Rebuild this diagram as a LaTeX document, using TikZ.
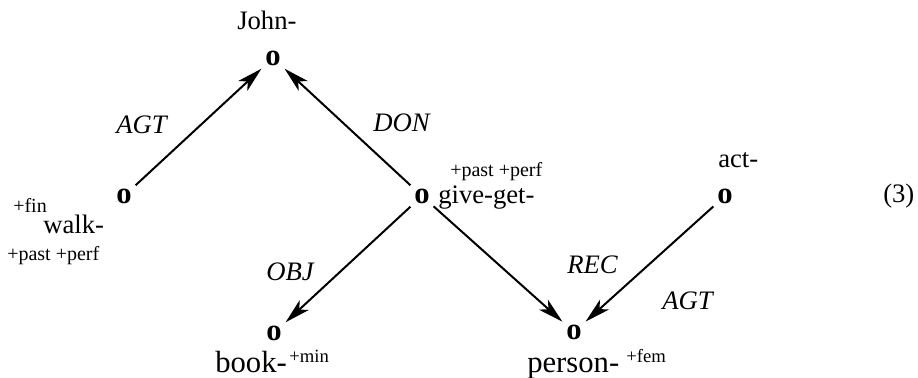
\documentclass[tikz,border=0pt]{standalone}
\usepackage{fontspec}
\setmainfont{Liberation Serif}
\usetikzlibrary{arrows.meta}
\begin{document}
\begin{tikzpicture}[x=0.75pt,y=-0.75pt,
  vtx/.style={font=\fontsize{23}{23}\selectfont\bfseries, inner sep=2pt},
  word/.style={font=\fontsize{20}{24}\selectfont, inner sep=0pt},
  bword/.style={font=\fontsize{23}{26}\selectfont, inner sep=0pt},
  feat/.style={font=\fontsize{15}{18}\selectfont, inner sep=0pt},
  sfeat/.style={font=\fontsize{14}{16}\selectfont, inner sep=0pt},
  rel/.style={font=\fontsize{20}{24}\selectfont\itshape, inner sep=0pt},
  arr/.style={-{Stealth[length=19pt,width=10pt,inset=5pt]}, line width=1.5pt, shorten >=1pt, shorten <=1pt}]
\useasboundingbox (0,0) rectangle (918,378);
% vertices
\node[vtx] (john) at (273,58) {o};
\node[vtx] (walk) at (124,196) {o};
\node[vtx] (give) at (422,196) {o};
\node[vtx] (act) at (725,196) {o};
\node[vtx] (book) at (274,333) {o};
\node[vtx] (person) at (574,332) {o};
% words
\node[word, anchor=base west] (johnw) at (237,30) {John-};
\node[feat, anchor=base west] (walkfin) at (13,212) {+fin};
\node[word, anchor=base west] (walkw) at (43,233) {walk-};
\node[feat, anchor=base west] (walkpp) at (7,260) {+past +perf};
\node[feat, anchor=base west] (givepp) at (450,176) {+past +perf};
\node[word, anchor=base west] (givew) at (438,203) {give-get-};
\node[word, anchor=base west] (actw) at (718,167) {act-};
\node[bword, anchor=base west] (bookw) at (215,372) {book-};
\node[sfeat, anchor=base west] (bookf) at (289,362) {+min};
\node[bword, anchor=base west] (personw) at (527,372) {person-};
\node[sfeat, anchor=base west] (personf) at (626,362) {+fem};
\node[word, anchor=base west] (num) at (883,202) {(3)};
% relation labels
\node[rel, anchor=base east] (agt1) at (167,133) {AGT};
\node[rel, anchor=base west] (don) at (373,132) {DON};
\node[rel, anchor=base west] (obj) at (266,280) {OBJ};
\node[rel, anchor=base west] (rec) at (567,273) {REC};
\node[rel, anchor=base west] (agt2) at (662,309) {AGT};
% arcs
\draw[arr] (walk) -- (john);
\draw[arr] (give) -- (john);
\draw[arr] (give) -- (book);
\draw[arr] (give) -- (person);
\draw[arr] (act) -- (person);
\end{tikzpicture}
\end{document}
